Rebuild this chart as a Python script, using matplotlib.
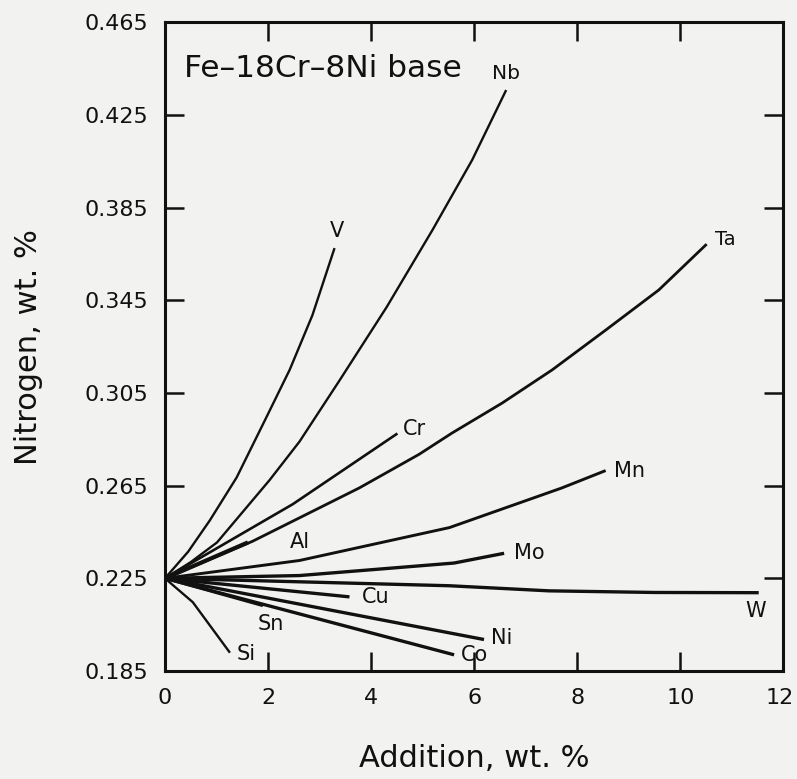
import matplotlib
matplotlib.use("Agg")
import matplotlib.pyplot as plt
import matplotlib.transforms as mtransforms

# ---- data ----
v_x = [0, 0.45, 0.87, 1.39, 1.97, 2.42, 2.86, 3.29]
v_y = [0.225, 0.2365, 0.250, 0.2685, 0.2946, 0.315, 0.3385, 0.3675]

nb_x = [0, 0.50, 1.01, 2.03, 2.61, 3.39, 4.30, 5.19, 5.96, 6.62]
nb_y = [0.225, 0.232, 0.2405, 0.2674, 0.284, 0.3105, 0.342, 0.3753, 0.4055, 0.4357]

cr_x = [0, 2.48, 4.51]
cr_y = [0.225, 0.257, 0.2875]

ta_x = [0, 1.70, 3.77, 4.93, 5.57, 6.54, 7.51, 8.55, 9.58, 10.51]
ta_y = [0.225, 0.241, 0.264, 0.2785, 0.2877, 0.3006, 0.3149, 0.3321, 0.3494, 0.3692]

mn_x = [0, 2.61, 5.52, 7.70, 8.55]
mn_y = [0.225, 0.2327, 0.2469, 0.2640, 0.2715]

al_x = [0, 1.61]
al_y = [0.225, 0.2405]

mo_x = [0, 2.61, 5.61, 6.58]
mo_y = [0.225, 0.2262, 0.2316, 0.2358]

w_x = [0, 2.61, 5.52, 7.45, 9.50, 11.52]
w_y = [0.225, 0.2235, 0.2218, 0.2196, 0.2189, 0.2188]

cu_x = [0, 3.58]
cu_y = [0.225, 0.217]

ni_x = [0, 6.19]
ni_y = [0.225, 0.1986]

co_x = [0, 5.61]
co_y = [0.225, 0.192]

sn_x = [0, 1.90]
sn_y = [0.225, 0.2132]

si_x = [0, 0.54, 1.26]
si_y = [0.225, 0.2147, 0.1929]

x_ticks = [0, 2, 4, 6, 8, 10, 12]
y_ticks = [0.185, 0.225, 0.265, 0.305, 0.345, 0.385, 0.425, 0.465]
y_tick_labels = ["0.185", "0.225", "0.265", "0.305", "0.345", "0.385", "0.425", "0.465"]

BG = "#f2f2f0"
INK = "#111111"

fig = plt.figure(figsize=(7.97, 7.79), dpi=100, facecolor=BG)
ax = fig.add_axes([0.207, 0.1386, 0.776, 0.833])
ax.set_facecolor(BG)

series = [
    # name, x, y, linewidth, label offset (pt), ha, va, fontsize
    ("V", v_x, v_y, 1.7, (2, 5), "center", "bottom", 15),
    ("Nb", nb_x, nb_y, 1.7, (0, 5), "center", "bottom", 14.5),
    ("Cr", cr_x, cr_y, 1.9, (4, 3), "left", "center", 15),
    ("Ta", ta_x, ta_y, 2.0, (6, 3), "left", "center", 14),
    ("Mn", mn_x, mn_y, 2.1, (6, 0), "left", "center", 15),
    ("Al", al_x, al_y, 3.0, (30, 0), "left", "center", 15),
    ("Mo", mo_x, mo_y, 2.4, (7, 0), "left", "center", 15),
    ("W", w_x, w_y, 2.4, (-2, -6), "center", "top", 15),
    ("Cu", cu_x, cu_y, 2.4, (9, 0), "left", "center", 15),
    ("Ni", ni_x, ni_y, 2.4, (5, 1), "left", "center", 15),
    ("Co", co_x, co_y, 2.4, (5, 0), "left", "center", 15),
    ("Sn", sn_x, sn_y, 2.1, (6, -6), "center", "top", 15),
    ("Si", si_x, si_y, 1.7, (5, -1), "left", "center", 15),
]

for name, xs, ys, lw, off, ha, va, fs in series:
    ax.plot(xs, ys, color=INK, lw=lw, solid_capstyle="butt", solid_joinstyle="round")
    ax.annotate(name, xy=(xs[-1], ys[-1]), xytext=off, textcoords="offset points",
                ha=ha, va=va, fontsize=fs, color=INK)

ax.set_xlim(0, 12)
ax.set_ylim(0.185, 0.465)
ax.set_xticks(x_ticks)
ax.set_yticks(y_ticks)
ax.set_yticklabels(y_tick_labels)

for s in ax.spines.values():
    s.set_linewidth(2.2)
    s.set_color(INK)

ax.tick_params(axis="both", which="major", direction="in", length=14, width=1.8,
               colors=INK, labelsize=16, top=True, right=True)
ax.tick_params(axis="y", pad=12)
ax.tick_params(axis="x", pad=12)

# keep the last x tick label inside the figure
last = ax.get_xticklabels()[-1]
last.set_transform(last.get_transform() +
                   mtransforms.ScaledTranslation(-3 / 72, 0, fig.dpi_scale_trans))

ax.set_xlabel("Addition, wt. %", fontsize=22, labelpad=26, color=INK)
ax.set_ylabel("Nitrogen, wt. %", fontsize=22, labelpad=30, color=INK)

ax.text(0.03, 0.928, "Fe\u201318Cr\u20138Ni base", transform=ax.transAxes,
        fontsize=22.5, ha="left", va="center", color=INK)

fig.savefig("out.png", dpi=100, facecolor=BG)
